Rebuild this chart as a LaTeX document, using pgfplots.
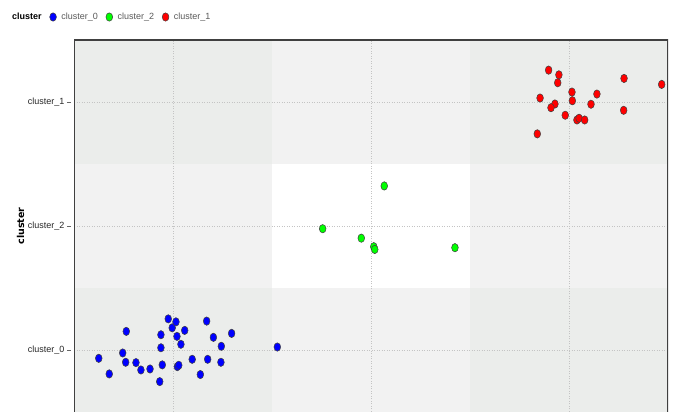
\documentclass[border=0pt]{standalone}
\usepackage{fontspec}
\setmainfont{Liberation Sans}
\newfontfamily\dejavu{DejaVu Sans}
\usepackage{pgfplots}
\pgfplotsset{compat=1.18}
\definecolor{cdark}{HTML}{EBEDEB}
\definecolor{clight}{HTML}{F2F2F2}
\definecolor{cgrid}{HTML}{C4C4C4}
\definecolor{cblue}{HTML}{0000FF}
\definecolor{cgreen}{HTML}{00FF00}
\definecolor{cred}{HTML}{FF0000}
\begin{document}
\begin{tikzpicture}
\begin{axis}[
  set layers,
  scale only axis, width=594pt, height=372pt,
  xmin=-0.5, xmax=2.5, ymin=-0.5, ymax=2.5,
  xtick={0,1,2}, xticklabels={},
  ytick={0,1,2}, yticklabels={cluster\_0,cluster\_2,cluster\_1},
  ytick pos=left,
  axis line style={draw=none},
  grid=major, major grid style={cgrid, dash pattern=on 1pt off 1.5pt, line width=0.7pt},
  tick align=outside, xtick style={draw=none},
  major tick length=4pt,
  ytick style={black!60, line width=0.6pt, xshift=-3pt},
  y tick label style={font=\fontsize{9}{10}\selectfont, text=black!85, xshift=-2pt},
  ylabel={\textbf{cluster}},
  ylabel style={at={(axis description cs:-0.090,0.5)}, anchor=center, font=\dejavu\fontsize{9.5}{10}\selectfont},
  legend style={at={(axis description cs:-0.1128,1.0618)}, anchor=west, draw=none, fill=none,
    font=\fontsize{9}{10}\selectfont, text=black!65, inner sep=0pt,
    /tikz/every odd column/.append style={column sep=3pt},
    /tikz/every even column/.append style={column sep=6pt}},
  legend columns=-1,
  legend image code/.code={\draw[#1] plot coordinates {(0pt,0pt)};},
  mark size=4.2pt,
]
\begin{pgfonlayer}{axis background}
\fill[cdark] (axis cs:-0.5,-0.5) rectangle (axis cs:0.5,0.5);
\fill[clight] (axis cs:0.5,-0.5) rectangle (axis cs:1.5,0.5);
\fill[cdark] (axis cs:1.5,-0.5) rectangle (axis cs:2.5,0.5);
\fill[clight] (axis cs:-0.5,0.5) rectangle (axis cs:0.5,1.5);
\fill[white] (axis cs:0.5,0.5) rectangle (axis cs:1.5,1.5);
\fill[clight] (axis cs:1.5,0.5) rectangle (axis cs:2.5,1.5);
\fill[cdark] (axis cs:-0.5,1.5) rectangle (axis cs:0.5,2.5);
\fill[clight] (axis cs:0.5,1.5) rectangle (axis cs:1.5,2.5);
\fill[cdark] (axis cs:1.5,1.5) rectangle (axis cs:2.5,2.5);
\end{pgfonlayer}
\addlegendimage{empty legend}
\addlegendentry{\textcolor{black}{\textbf{cluster}}}
\addplot[only marks, mark=*, mark options={xscale=0.8, fill=cblue, draw=black!75, line width=0.5pt}] table {
x y
-0.375 -0.067
-0.322 -0.193
-0.254 -0.024
-0.236 0.150
-0.239 -0.099
-0.187 -0.102
-0.162 -0.161
-0.116 -0.153
-0.067 -0.255
-0.061 0.123
-0.061 0.018
-0.054 -0.120
-0.024 0.251
-0.004 0.179
0.015 0.227
0.020 0.110
0.040 0.046
0.059 0.158
0.022 -0.134
0.029 -0.123
0.097 -0.075
0.138 -0.198
0.170 0.233
0.175 -0.075
0.204 0.102
0.242 -0.099
0.244 0.030
0.296 0.134
0.527 0.024
};
\addlegendentry{cluster\_0}
\addplot[only marks, mark=*, mark options={xscale=0.8, fill=cgreen, draw=black!75, line width=0.5pt}] table {
x y
1.067 1.323
0.756 0.978
0.951 0.902
1.014 0.833
1.019 0.811
1.424 0.825
};
\addlegendentry{cluster\_2}
\addplot[only marks, mark=*, mark options={xscale=0.8, fill=cred, draw=black!75, line width=0.5pt}] table {
x y
1.897 2.257
1.949 2.219
1.943 2.155
1.854 2.032
1.929 1.984
1.909 1.954
2.015 2.080
2.017 2.010
1.981 1.893
2.040 1.855
2.051 1.869
2.079 1.855
2.111 1.982
2.141 2.064
2.278 2.190
2.276 1.933
2.468 2.142
1.840 1.743
};
\addlegendentry{cluster\_1}
\draw[black!75, line width=1.2pt] (rel axis cs:0,0) -- (rel axis cs:0,1) -- (rel axis cs:1,1) -- (rel axis cs:1,0);
\draw[black!30, line width=1pt] ([xshift=-3pt]rel axis cs:0,0) -- ([xshift=-3pt]rel axis cs:0,1);
\end{axis}
\pgfresetboundingbox
\path (-74pt,0pt) rectangle (601pt,412pt);
\end{tikzpicture}
\end{document}
